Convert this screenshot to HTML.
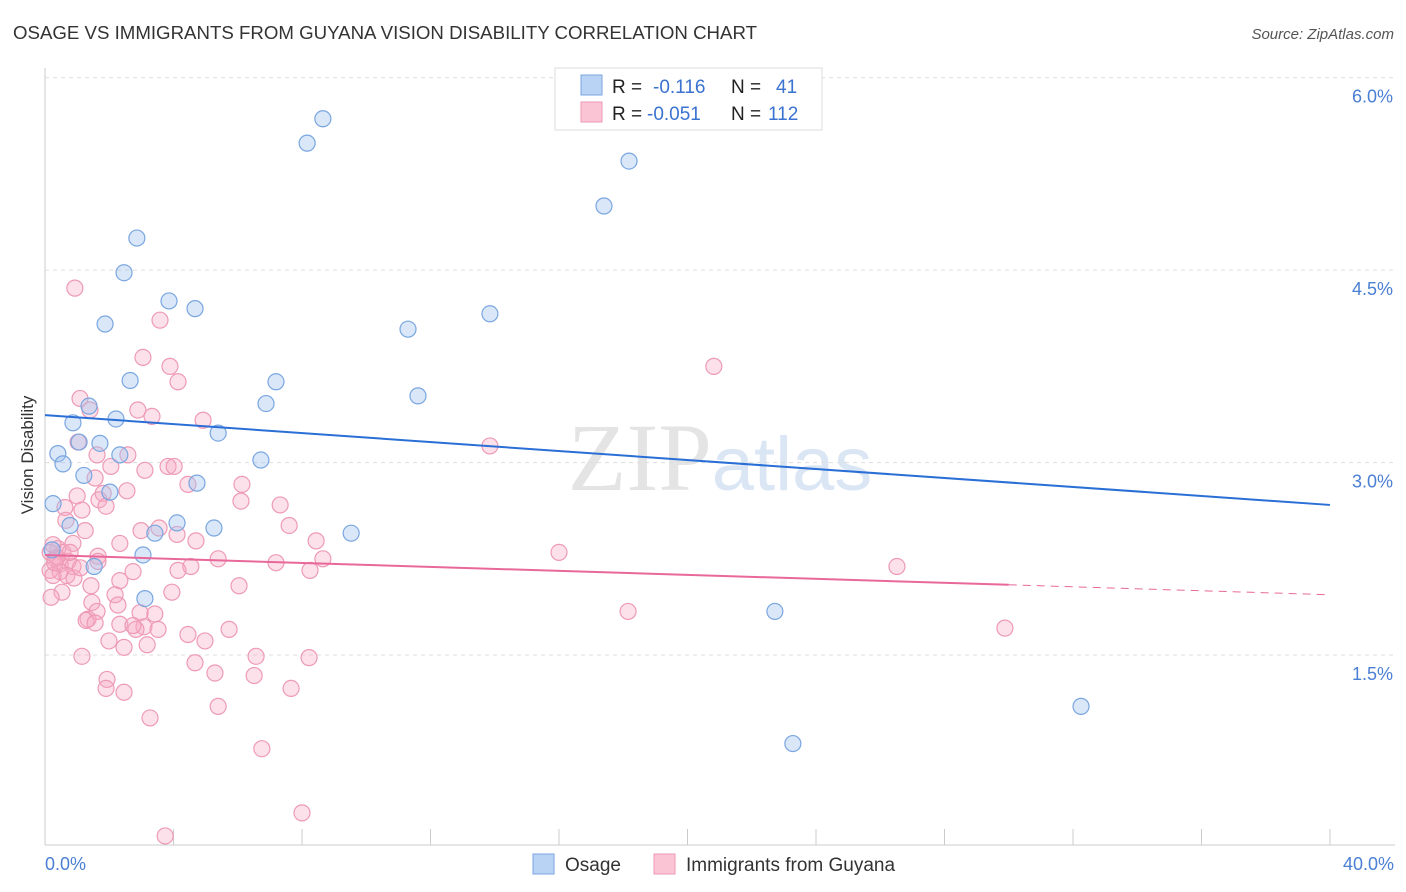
<!DOCTYPE html>
<html><head><meta charset="utf-8"><style>
body{margin:0;background:#fff;font-family:"Liberation Sans",sans-serif;}
svg{display:block}
</style></head><body>
<svg id="c" width="1406" height="892" xmlns="http://www.w3.org/2000/svg">
<text x="13" y="39" font-size="18" fill="#333" textLength="744" lengthAdjust="spacingAndGlyphs">OSAGE VS IMMIGRANTS FROM GUYANA VISION DISABILITY CORRELATION CHART</text>
<text x="1394" y="39" font-size="15" fill="#555" font-style="italic" text-anchor="end">Source: ZipAtlas.com</text>
<text x="720" y="490" font-size="96" fill="#e4e4e4" text-anchor="middle" font-family="Liberation Serif">ZIP<tspan fill="#dbe6f5" font-family="Liberation Sans" font-size="76">atlas</tspan></text>
<g id="grid"></g>
<g id="pts"></g>
<g id="lines"></g>
<text transform="translate(33,455) rotate(-90)" font-size="17" fill="#333" text-anchor="middle">Vision Disability</text>
<text x="45" y="870" font-size="18" fill="#4a7fd4">0.0%</text>
<text x="1394" y="870" font-size="18" fill="#4a7fd4" text-anchor="end">40.0%</text>
<g>
<rect x="555" y="68" width="267" height="62" fill="#fff" stroke="#ddd"/>
<rect x="581" y="75" width="21" height="20" fill="#b8d3f4" stroke="#7aa6e0"/>
<rect x="581" y="102" width="21" height="20" fill="#fbc4d4" stroke="#ee9ab5"/>
<text x="612" y="93" font-size="19" fill="#222">R = </text><text x="653" y="93" font-size="19" fill="#3a72d0">-0.116</text>
<text x="731" y="93" font-size="19" fill="#222">N = </text><text x="776" y="93" font-size="19" fill="#3a72d0">41</text>
<text x="612" y="120" font-size="19" fill="#222">R = </text><text x="647" y="120" font-size="19" fill="#3a72d0">-0.051</text>
<text x="731" y="120" font-size="19" fill="#222">N = </text><text x="768" y="120" font-size="19" fill="#3a72d0">112</text>
</g>
<g>
<rect x="533" y="854" width="21" height="20" fill="#b8d3f4" stroke="#7aa6e0"/>
<text x="565" y="871" font-size="19" fill="#333">Osage</text>
<rect x="654" y="854" width="21" height="20" fill="#fbc4d4" stroke="#ee9ab5"/>
<text x="686" y="871" font-size="19" fill="#333">Immigrants from Guyana</text>
</g>
</svg>
<script>
const osageX=[8.65,8.16,18.18,17.40,2.86,2.46,3.86,4.67,1.87,11.30,13.85,2.65,7.19,11.61,6.88,1.37,2.21,0.87,5.39,1.06,1.71,0.40,2.33,0.56,6.72,1.21,2.02,4.73,0.25,0.78,4.11,5.26,9.53,3.42,3.05,1.53,3.11,22.72,32.25,23.28,0.22];
const osageY=[5.68,5.49,5.35,5.00,4.75,4.48,4.26,4.20,4.08,4.04,4.16,3.64,3.63,3.52,3.46,3.44,3.34,3.31,3.23,3.16,3.15,3.07,3.06,2.99,3.02,2.90,2.77,2.84,2.68,2.51,2.53,2.49,2.45,2.45,2.28,2.19,1.94,1.84,1.10,0.81,2.32];
const guyX=[0.93,3.58,3.05,3.89,4.14,20.82,1.09,1.40,2.89,3.33,4.92,13.85,1.03,2.58,1.62,3.83,2.05,3.11,4.02,1.56,4.45,6.13,2.55,1.00,1.81,1.68,6.10,7.32,0.62,1.15,1.90,7.60,1.25,3.55,2.99,4.11,4.70,8.44,0.87,0.40,0.16,0.56,1.65,16.00,0.31,0.72,0.47,0.87,5.39,7.19,8.65,26.52,4.54,4.14,0.47,0.16,0.25,0.68,0.90,8.25,2.74,2.33,1.43,6.04,3.95,0.53,0.19,2.18,1.46,2.27,18.15,3.42,1.62,2.96,1.34,1.28,1.56,2.33,3.08,3.52,2.83,29.88,5.73,4.45,1.99,4.98,2.46,3.18,1.15,6.57,8.22,4.67,6.51,5.29,1.93,1.90,2.46,7.66,5.39,3.27,6.75,8.00,3.74,0.78,0.37,0.25,1.65,2.74,0.65,2.33,0.30,1.10];
const guyY=[4.36,4.11,3.82,3.75,3.63,3.75,3.50,3.41,3.41,3.36,3.33,3.13,3.16,3.06,3.06,2.97,2.97,2.94,2.97,2.88,2.83,2.83,2.78,2.74,2.76,2.71,2.70,2.67,2.65,2.63,2.66,2.51,2.47,2.49,2.47,2.44,2.39,2.39,2.37,2.33,2.30,2.30,2.27,2.30,2.25,2.23,2.21,2.19,2.25,2.22,2.25,2.19,2.19,2.16,2.15,2.16,2.12,2.12,2.10,2.16,2.15,2.08,2.04,2.04,1.99,1.99,1.95,1.97,1.91,1.89,1.84,1.82,1.84,1.83,1.78,1.77,1.75,1.74,1.72,1.70,1.70,1.71,1.70,1.66,1.61,1.61,1.56,1.58,1.49,1.49,1.48,1.44,1.34,1.36,1.31,1.24,1.21,1.24,1.10,1.01,0.77,0.27,0.09,2.30,2.26,2.36,2.23,1.73,2.55,2.37,2.22,2.18];
const yTicks=[1.5,3.0,4.5,6.0];
const yTickLabels=["1.5%","3.0%","4.5%","6.0%"];
const xTicks=[0,4,8,12,16,20,24,28,32,36,40];
const osageTrend=[3.37,2.67];
const guyTrend=[2.28,1.97];
const guySolidEnd=30;

const X=v=>45+v*32.125, Y=v=>847.5-v*128.3;
const NS="http://www.w3.org/2000/svg";
function mk(t,a,p){const e=document.createElementNS(NS,t);for(const k in a)e.setAttribute(k,a[k]);p.appendChild(e);return e;}
const g=document.getElementById('grid');
let ax=mk('line',{x1:45,y1:68,x2:45,y2:845,stroke:'#ccc'},g);


let bx=mk('line',{x1:45,y1:845,x2:1395,y2:845,stroke:'#ccc'},g);


yTicks.forEach((v,i)=>{
 const l=mk('line',{x1:45,x2:1395,y1:Y(v),y2:Y(v),stroke:'#ddd','stroke-dasharray':'4,4'},g);
 
 
 const t=mk('text',{x:1393,y:Y(v)+25,'font-size':18,fill:'#4a7fd4','text-anchor':'end'},g);
 t.textContent=yTickLabels[i];
 
 
});
xTicks.forEach(v=>{
 const l=mk('line',{x1:X(v),x2:X(v),y1:829,y2:845,stroke:'#ccc'},g);
 
 
});
const P=document.getElementById('pts');
guyX.forEach((x,i)=>{
 const c=mk('circle',{cx:X(x),cy:Y(guyY[i]),r:8,fill:'rgba(247,170,196,0.35)',stroke:'#ee9ab5','stroke-width':1.2},P);
 
 
});
osageX.forEach((x,i)=>{
 const c=mk('circle',{cx:X(x),cy:Y(osageY[i]),r:8,fill:'rgba(160,196,240,0.4)',stroke:'#7aa6e0','stroke-width':1.2},P);
 
 
});
const L=document.getElementById('lines');
let ol=mk('line',{x1:X(0),y1:Y(osageTrend[0]),x2:X(40),y2:Y(osageTrend[1]),stroke:'#2a6fd6','stroke-width':2},L);


const gy=v=>guyTrend[0]+(guyTrend[1]-guyTrend[0])*v/40;
let gl=mk('line',{x1:X(0),y1:Y(gy(0)),x2:X(guySolidEnd),y2:Y(gy(guySolidEnd)),stroke:'#e8689a','stroke-width':2},L);


let gd=mk('line',{x1:X(guySolidEnd),y1:Y(gy(guySolidEnd)),x2:X(40),y2:Y(gy(40)),stroke:'#e8689a','stroke-width':1,'stroke-dasharray':'8,6'},L);


</script>
</body></html>
